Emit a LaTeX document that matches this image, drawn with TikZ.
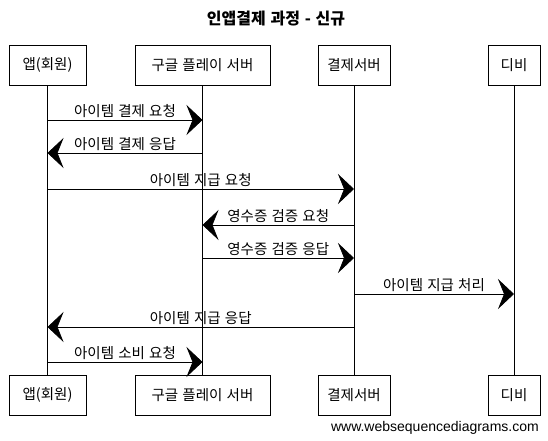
\documentclass[tikz,border=0pt]{standalone}
\usepackage{fontspec}
\setmainfont{Noto Sans CJK KR}[WordSpace=1.3]
\newfontfamily\webfont{Liberation Sans}
\usetikzlibrary{arrows.meta}
\tikzset{
	actor/.style={draw, line width=0.7pt, minimum height=40pt, inner sep=0pt, font=\fontsize{14.5}{16}\selectfont},
	life/.style={line width=0.6pt},
	msg/.style={line width=0.7pt, -{Stealth[length=16pt, width=30pt, inset=6pt]}},
	lbl/.style={midway, above=2pt, inner sep=0pt, font=\fontsize{14.5}{16}\selectfont},
}

\begin{document}
\begin{tikzpicture}[x=1pt, y=-1pt]
			%%%%% START %%%%%
			\useasboundingbox (0, 0) rectangle (548, 441);
			
			\node[font=\bfseries\fontsize{16}{18}\selectfont] (title) at (276, 19) {인앱결제 과정 - 신규};
			
			% top boxes
			\node[actor, minimum width=77pt] (appTop) at (47.5, 65) {앱(회원)};
			\node[actor, minimum width=135pt] (gpsTop) at (202.5, 65) {구글 플레이 서버};
			\node[actor, minimum width=72pt] (payTop) at (354, 65) {결제서버};
			\node[actor, minimum width=52pt] (dbTop) at (514, 65) {디비};
			
			% bottom boxes
			\node[actor, minimum width=77pt] (appBot) at (47.5, 395) {앱(회원)};
			\node[actor, minimum width=135pt] (gpsBot) at (202.5, 395) {구글 플레이 서버};
			\node[actor, minimum width=72pt] (payBot) at (354, 395) {결제서버};
			\node[actor, minimum width=52pt] (dbBot) at (514, 395) {디비};
			
			% lifelines
			\draw[life] (appTop) -- (appBot);
			\draw[life] (gpsTop) -- (gpsBot);
			\draw[life] (payTop) -- (payBot);
			\draw[life] (dbTop) -- (dbBot);
			
			% messages
			\draw[msg] (appTop |- 0, 120) -- (gpsTop |- 0, 120) node[lbl] {아이템 결제 요청};
			\draw[msg] (gpsTop |- 0, 153) -- (appTop |- 0, 153) node[lbl] {아이템 결제 응답};
			\draw[msg] (appTop |- 0, 189) -- (payTop |- 0, 189) node[lbl] {아이템 지급 요청};
			\draw[msg] (payTop |- 0, 225) -- (gpsTop |- 0, 225) node[lbl] {영수증 검증 요청};
			\draw[msg] (gpsTop |- 0, 258) -- (payTop |- 0, 258) node[lbl] {영수증 검증 응답};
			\draw[msg] (payTop |- 0, 294) -- (dbTop |- 0, 294) node[lbl] {아이템 지급 처리};
			\draw[msg] (payTop |- 0, 327) -- (appTop |- 0, 327) node[lbl] {아이템 지급 응답};
			\draw[msg] (appTop |- 0, 362) -- (gpsTop |- 0, 362) node[lbl] {아이템 소비 요청};
			
			\node[anchor=east, inner sep=0pt, font=\webfont\fontsize{14}{16}\selectfont] (wsd) at (539, 428) {www.websequencediagrams.com};
			
			%%%%% END %%%%%
\end{tikzpicture}
\end{document}
